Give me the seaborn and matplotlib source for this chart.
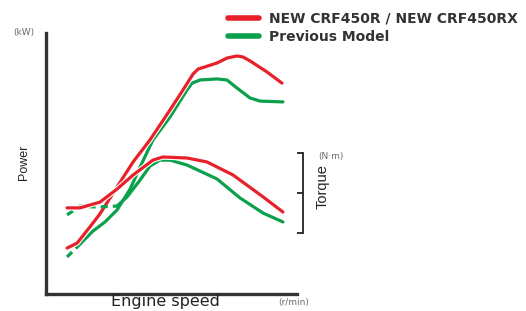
import numpy as np
import pandas as pd
import seaborn as sns
import matplotlib
matplotlib.use("Agg")
import matplotlib.pyplot as plt
from matplotlib.lines import Line2D
import matplotlib.patheffects as pe

# ---- data (arbitrary units: engine speed 0..100, power/torque 0..100) ----
new_power_x = [8.4, 12.4, 17.5, 21.5, 28.3, 34.7, 41.4, 49.4, 54.6, 58.6, 60.6, 63.3, 68.1, 72.1, 76.1, 78.5, 81.3, 88.0, 94.0]
new_power_y = [17.6, 19.5, 25.7, 30.7, 41.0, 50.6, 59.0, 70.5, 78.2, 84.3, 86.2, 87.0, 88.5, 90.4, 91.2, 90.8, 89.3, 85.1, 80.8]

prev_power_x = [8.4, 12.4, 18.7, 23.5, 28.3, 33.5, 37.5, 42.6, 49.4, 56.2, 58.2, 61.4, 68.1, 72.1, 76.1, 81.3, 85.3, 94.4]
prev_power_y = [14.2, 18.0, 24.1, 27.6, 32.2, 40.2, 48.7, 59.0, 67.8, 78.2, 80.8, 82.0, 82.4, 82.0, 78.9, 75.1, 73.9, 73.6]

new_torque_x = [8.4, 13.5, 21.5, 28.3, 34.7, 42.6, 46.6, 56.2, 64.1, 74.5, 86.5, 94.4]
new_torque_y = [33.0, 33.0, 35.2, 40.2, 45.6, 51.3, 52.5, 52.1, 50.6, 45.6, 37.2, 31.4]

prev_torque_x = [8.4, 13.5, 20.3, 28.3, 32.3, 37.5, 41.4, 45.4, 49.4, 56.2, 68.1, 77.3, 86.5, 94.4]
prev_torque_y = [30.3, 33.7, 33.3, 33.7, 37.2, 43.7, 49.0, 51.3, 51.3, 49.4, 44.1, 36.8, 31.0, 27.6]

legend_labels = ["NEW CRF450R / NEW CRF450RX", "Previous Model"]

RED = "#e8202a"
GREEN = "#0aa04c"
AX_COLOR = "#333333"
GRAY = "#6a6a6a"

sns.set_style("white")
plt.rcParams["font.family"] = ["DejaVu Sans"]

W, H = 526, 311
fig = plt.figure(figsize=(W / 100, H / 100), dpi=100)
ax = fig.add_axes([46 / W, (H - 294) / H, (297 - 46) / W, (294 - 33) / H])
ax.set_xlim(0, 100)
ax.set_ylim(0, 100)
ax2 = ax.twinx()
ax2.set_ylim(0, 100)

LW = 2.3

def draw(axis, xs, ys, color, dashed_upto=0, halo=False):
    effects = [pe.Stroke(linewidth=LW + 1.6, foreground="white"), pe.Normal()] if halo else None
    if dashed_upto > 0:
        sns.lineplot(x=xs[:dashed_upto + 1], y=ys[:dashed_upto + 1], ax=axis, color=color,
                     linewidth=LW, sort=False, linestyle=(0, (2.2, 1.6)))
        xs, ys = xs[dashed_upto:], ys[dashed_upto:]
    sns.lineplot(x=xs, y=ys, ax=axis, color=color, linewidth=LW, sort=False)
    if effects:
        axis.lines[-1].set_path_effects(effects)
    axis.lines[-1].set_solid_joinstyle("round")

draw(ax, prev_power_x, prev_power_y, GREEN, dashed_upto=1)
draw(ax2, prev_torque_x, prev_torque_y, GREEN, dashed_upto=3)
draw(ax, new_power_x, new_power_y, RED, halo=True)
draw(ax2, new_torque_x, new_torque_y, RED, halo=True)

# axes styling
for a in (ax, ax2):
    a.set_xticks([])
    a.set_xlabel("")
    a.set_ylabel("")
ax.set_yticks([])
for s in ("top", "right"):
    ax.spines[s].set_visible(False)
for s in ("left", "bottom"):
    ax.spines[s].set_color(AX_COLOR)
    ax.spines[s].set_linewidth(2.4)

for s in ("top", "left", "bottom"):
    ax2.spines[s].set_visible(False)
ax2.spines["right"].set_position(("outward", 4.5))
lo, hi = (294 - 233) / 2.61, (294 - 153) / 2.61
ax2.spines["right"].set_bounds(lo, hi)
ax2.spines["right"].set_color("#222222")
ax2.spines["right"].set_linewidth(1.3)
ax2.set_yticks([lo, (lo + hi) / 2, hi])
ax2.set_yticklabels([])
ax2.tick_params(axis="y", direction="in", length=4.5, width=1.3, color="#222222", right=True)

# texts
fig.text(24 / W, 1 - 162 / H, "Power", rotation=90, ha="center", va="center",
         fontsize=9, color="#222222", family=["Liberation Sans"])
fig.text(323 / W, 1 - 187 / H, "Torque", rotation=90, ha="center", va="center",
         fontsize=10.5, color="#222222", family=["Liberation Sans"])
fig.text(24 / W, 1 - 33 / H, "(kW)", ha="center", va="center", fontsize=6.5, color=GRAY)
fig.text(331 / W, 1 - 157 / H, "(N\u00b7m)", ha="center", va="center", fontsize=6.5, color=GRAY)
fig.text(294 / W, 1 - 302 / H, "(r/min)", ha="center", va="center", fontsize=6.5, color=GRAY)
fig.text(165 / W, 2 / H, "Engine speed", ha="center", va="bottom", fontsize=11.5, color="#222222")

handles = [Line2D([], [], color=RED, linewidth=4), Line2D([], [], color=GREEN, linewidth=4)]
fig.legend(handles, legend_labels, loc="upper left", bbox_to_anchor=(228 / W, 1 - 12 / H),
           frameon=False, borderpad=0, borderaxespad=0, handlelength=2.2, handletextpad=0.75,
           labelspacing=0.3, prop={"weight": "bold", "size": 10}, labelcolor="#333333")

fig.savefig("out.png", dpi=100)
